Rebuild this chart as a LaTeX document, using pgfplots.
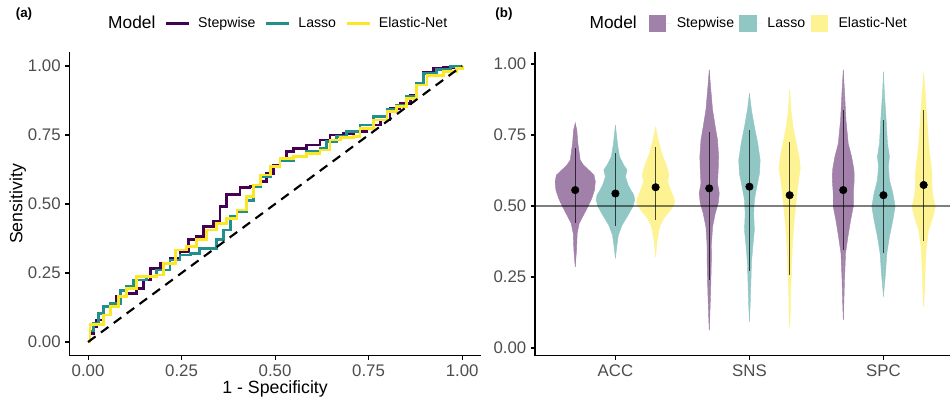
\documentclass[border=0pt]{standalone}
\usepackage{fontspec}
\setmainfont{Liberation Sans}
\usepackage{pgfplots}
\usepackage{pgfplotstable}
\pgfplotsset{compat=1.18}

% viridis(3)
\definecolor{cStep}{HTML}{440154}
\definecolor{cLasso}{HTML}{21908C}
\definecolor{cEN}{HTML}{FDE725}
% same colours at alpha 0.5 on white
\definecolor{fStep}{HTML}{A180A9}
\definecolor{fLasso}{HTML}{90C7C5}
\definecolor{fEN}{HTML}{FEF392}
\definecolor{tickgray}{HTML}{4D4D4D}

% violin outlines: y, half width (in category units)
\pgfplotstableread{
y w
0.286 0
0.345 0.010
0.404 0.015
0.439 0.030
0.468 0.062
0.498 0.095
0.527 0.124
0.556 0.144
0.586 0.150
0.609 0.140
0.627 0.100
0.644 0.062
0.662 0.037
0.720 0.020
0.768 0.012
0.791 0
}\vAS
\pgfplotstableread{
y w
0.316 0
0.357 0.010
0.398 0.022
0.433 0.050
0.468 0.095
0.498 0.130
0.521 0.144
0.539 0.137
0.556 0.115
0.574 0.095
0.603 0.075
0.627 0.087
0.644 0.062
0.674 0.030
0.720 0.015
0.785 0
}\vAL
\pgfplotstableread{
y w
0.321 0
0.380 0.012
0.427 0.030
0.457 0.062
0.486 0.112
0.510 0.142
0.527 0.137
0.556 0.112
0.586 0.090
0.609 0.100
0.644 0.080
0.686 0.045
0.732 0.020
0.779 0
}\vAE
\pgfplotstableread{
y w
0.063 0
0.122 0.005
0.192 0.010
0.286 0.015
0.369 0.017
0.427 0.025
0.474 0.045
0.510 0.067
0.545 0.075
0.580 0.062
0.627 0.067
0.674 0.070
0.732 0.062
0.779 0.045
0.838 0.025
0.920 0.010
0.979 0
}\vSS
\pgfplotstableread{
y w
0.093 0
0.145 0.005
0.216 0.010
0.298 0.015
0.357 0.025
0.415 0.037
0.474 0.032
0.521 0.037
0.568 0.055
0.615 0.075
0.662 0.080
0.720 0.062
0.779 0.037
0.838 0.015
0.897 0
}\vSL
\pgfplotstableread{
y w
0.075 0
0.122 0.005
0.192 0.007
0.286 0.015
0.357 0.020
0.427 0.030
0.486 0.042
0.545 0.055
0.592 0.067
0.633 0.080
0.674 0.070
0.720 0.050
0.779 0.025
0.838 0.010
0.908 0
}\vSE
\pgfplotstableread{
y w
0.099 0
0.169 0.005
0.251 0.010
0.333 0.017
0.392 0.035
0.450 0.055
0.498 0.075
0.545 0.075
0.592 0.082
0.627 0.080
0.674 0.062
0.720 0.037
0.803 0.020
0.897 0.010
0.979 0
}\vPS
\pgfplotstableread{
y w
0.181 0
0.263 0.015
0.333 0.025
0.392 0.045
0.450 0.070
0.498 0.087
0.545 0.070
0.592 0.045
0.639 0.037
0.674 0.045
0.720 0.030
0.803 0.020
0.897 0.007
0.973 0
}\vPL
\pgfplotstableread{
y w
0.145 0
0.204 0.007
0.286 0.012
0.357 0.020
0.415 0.037
0.463 0.070
0.498 0.087
0.533 0.070
0.568 0.062
0.615 0.062
0.662 0.050
0.720 0.037
0.803 0.025
0.897 0.012
0.967 0
}\vPE

% point + interval per model
\pgfplotstableread{
x y lo hi
0.7 0.556 0.440 0.703
1.7 0.562 0.239 0.762
2.7 0.556 0.345 0.838
}\sumStep
\pgfplotstableread{
x y lo hi
1.0 0.544 0.428 0.688
2.0 0.568 0.272 0.768
3.0 0.538 0.333 0.803
}\sumLasso
\pgfplotstableread{
x y lo hi
1.3 0.566 0.450 0.708
2.3 0.538 0.257 0.727
3.3 0.574 0.375 0.838
}\sumEN

\newcommand{\violin}[3]{%
  \addplot[fill=#2, draw=#2, line width=0.3pt, forget plot] table[x expr={#3+\thisrow{w}}, y=y] {#1} -- cycle;
  \addplot[fill=#2, draw=#2, line width=0.3pt, forget plot] table[x expr={#3-\thisrow{w}}, y=y] {#1} -- cycle;
}
\newcommand{\summary}[1]{%
  \addplot[forget plot, only marks, mark=*, mark size=2.8pt, black,
    error bars/.cd, y dir=both, y explicit, error mark=none,
    error bar style={black, opacity=0.7, line width=0.55pt}]
    table[x=x, y=y, y error plus expr=\thisrow{hi}-\thisrow{y},
          y error minus expr=\thisrow{y}-\thisrow{lo}] {#1};
}

\pgfplotsset{
  panel/.style={
    scale only axis,
    height=227.7pt,
    axis lines*=left,
    axis line style={black, line width=0.8pt},
    tick align=outside,
    major tick length=3pt,
    tick style={black, line width=0.8pt},
    tick label style={font=\fontsize{12.6}{14}\selectfont, text=tickgray},
    label style={font=\fontsize{13.3}{15}\selectfont},
    legend columns=-1,
    legend cell align=left,
  }
}

\begin{document}
\begin{tikzpicture}
\useasboundingbox (0,0) rectangle (714pt,300pt);

\node[font=\bfseries\fontsize{10}{12}\selectfont] at (18pt,289.5pt) {(a)};
\node[font=\bfseries\fontsize{10}{12}\selectfont] at (378pt,289.5pt) {(b)};

% ---------------- (a) ROC curves
\begin{axis}[panel,
  at={(52pt,33.15pt)}, anchor=south west,
  width=308.6pt,
  xmin=-0.05, xmax=1.05, ymin=-0.05, ymax=1.05,
  xtick={0,0.25,0.5,0.75,1}, xticklabels={0.00,0.25,0.50,0.75,1.00},
  ytick={0,0.25,0.5,0.75,1}, yticklabels={0.00,0.25,0.50,0.75,1.00},
  xlabel={1 - Specificity}, ylabel={Sensitivity},
  xlabel style={at={(axis description cs:0.5,-0.124)}, anchor=base},
  ylabel style={at={(axis description cs:-0.125,0.5)}, anchor=center},
  legend style={draw=none, fill=none, at={(0.5,1.0955)}, anchor=center,
    font=\fontsize{10.6}{12}\selectfont,
    /tikz/every odd column/.append style={column sep=4pt},
    /tikz/every even column/.append style={column sep=5pt}},
  legend image code/.code={\draw[#1] (0pt,0pt) -- (11pt,0pt); \path (11pt,0pt) -- (17pt,0pt);},
]
\addlegendimage{empty legend}
\addlegendentry{\fontsize{13}{15}\selectfont Model}
\addplot[const plot, cStep, line width=2.1pt] coordinates {
(0,0) (0.005,0.03) (0.014,0.056) (0.023,0.08) (0.041,0.128) (0.059,0.14)
(0.077,0.164) (0.103,0.176) (0.13,0.194) (0.148,0.225) (0.166,0.267)
(0.193,0.285) (0.219,0.303) (0.246,0.327) (0.268,0.37) (0.29,0.382)
(0.308,0.418) (0.335,0.436) (0.353,0.49) (0.371,0.533) (0.406,0.56)
(0.433,0.563) (0.46,0.581) (0.478,0.611) (0.496,0.64) (0.513,0.665)
(0.531,0.69) (0.549,0.702) (0.585,0.714) (0.62,0.732) (0.647,0.75)
(0.683,0.756) (0.709,0.762) (0.745,0.774) (0.763,0.786) (0.781,0.804)
(0.807,0.847) (0.834,0.865) (0.861,0.895) (0.879,0.937) (0.897,0.976)
(0.923,0.992) (0.95,0.995) (1,1)
};
\addlegendentry{Stepwise}
\addplot[const plot, cLasso, line width=2.1pt] coordinates {
(0,0) (0.005,0.04) (0.014,0.068) (0.028,0.104) (0.041,0.128) (0.059,0.14)
(0.086,0.188) (0.103,0.2) (0.121,0.225) (0.157,0.237) (0.184,0.261)
(0.219,0.297) (0.246,0.315) (0.273,0.321) (0.299,0.339) (0.326,0.339)
(0.344,0.37) (0.362,0.406) (0.38,0.454) (0.398,0.472) (0.424,0.514)
(0.442,0.563) (0.46,0.599) (0.487,0.635) (0.513,0.659) (0.549,0.671)
(0.585,0.69) (0.62,0.702) (0.638,0.726) (0.665,0.744) (0.692,0.762)
(0.727,0.786) (0.763,0.816) (0.799,0.841) (0.825,0.859) (0.852,0.889)
(0.879,0.937) (0.897,0.973) (0.932,0.988) (0.968,0.998) (1,1)
};
\addlegendentry{Lasso}
\addplot[const plot, cEN, line width=2.1pt] coordinates {
(0,0) (0.005,0.062) (0.023,0.062) (0.041,0.098) (0.059,0.128) (0.081,0.164)
(0.103,0.194) (0.13,0.237) (0.157,0.237) (0.184,0.243) (0.201,0.285)
(0.233,0.333) (0.264,0.345) (0.29,0.37) (0.317,0.406) (0.344,0.43)
(0.371,0.448) (0.398,0.478) (0.424,0.527) (0.442,0.569) (0.46,0.605)
(0.487,0.635) (0.513,0.665) (0.549,0.671) (0.585,0.684) (0.62,0.696)
(0.647,0.732) (0.674,0.742) (0.709,0.746) (0.727,0.774) (0.763,0.804)
(0.799,0.835) (0.825,0.853) (0.852,0.883) (0.879,0.931) (0.906,0.967)
(0.95,0.979) (0.986,0.992) (1,1)
};
\addlegendentry{Elastic-Net}
\addplot[forget plot, black, line width=1.6pt, dash pattern=on 7pt off 5pt] coordinates {(0,0) (1,1)};
\end{axis}

% ---------------- (b) violins
\begin{axis}[panel,
  at={(401.25pt,33.15pt)}, anchor=south west,
  width=311.6pt,
  xmin=0.4, xmax=3.5, ymin=-0.0275, ymax=1.0415,
  xtick={1,2,3}, xticklabels={ACC,SNS,SPC},
  ytick={0,0.25,0.5,0.75,1}, yticklabels={0.00,0.25,0.50,0.75,1.00},
  legend style={draw=none, fill=none, at={(0.51,1.094)}, anchor=center,
    font=\fontsize{10.6}{12}\selectfont,
    /tikz/every odd column/.append style={column sep=2pt},
    /tikz/every even column/.append style={column sep=2pt}},
  legend image code/.code={\fill[#1, draw=none] (0pt,-6.5pt) rectangle (13pt,6.5pt); \path (13pt,0pt) -- (17pt,0pt);},
]
\addlegendimage{empty legend}
\addlegendentry{\fontsize{13}{15}\selectfont Model\hspace*{5pt}}
\addlegendimage{fill=fStep, draw=none}
\addlegendentry{Stepwise}
\addlegendimage{fill=fLasso, draw=none}
\addlegendentry{Lasso}
\addlegendimage{fill=fEN, draw=none}
\addlegendentry{Elastic-Net}

\violin{\vAS}{fStep}{0.7}
\violin{\vAL}{fLasso}{1.0}
\violin{\vAE}{fEN}{1.3}
\violin{\vSS}{fStep}{1.7}
\violin{\vSL}{fLasso}{2.0}
\violin{\vSE}{fEN}{2.3}
\violin{\vPS}{fStep}{2.7}
\violin{\vPL}{fLasso}{3.0}
\violin{\vPE}{fEN}{3.3}

\addplot[forget plot, black, opacity=0.5, line width=0.9pt] coordinates {(0.4,0.5) (3.5,0.5)};

\summary{\sumStep}
\summary{\sumLasso}
\summary{\sumEN}
\end{axis}
\end{tikzpicture}
\end{document}
